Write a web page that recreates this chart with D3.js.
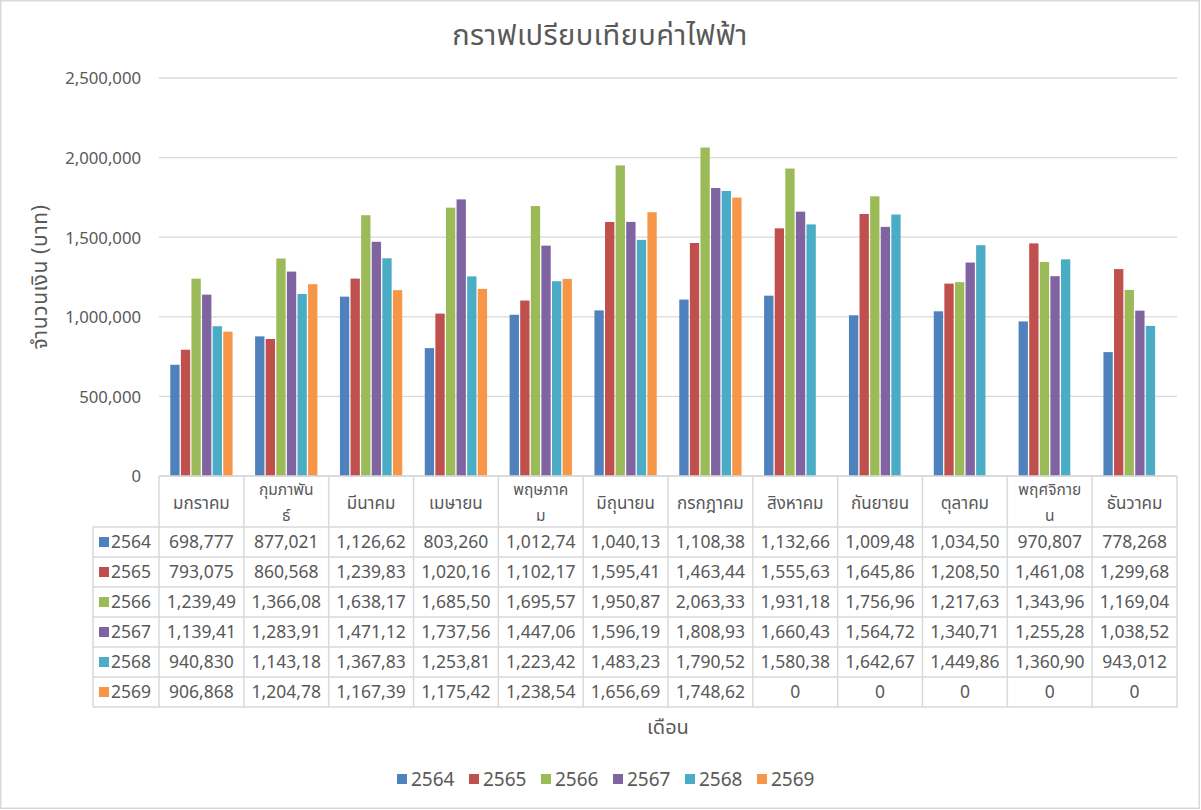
<!DOCTYPE html>
<html><head><meta charset="utf-8">
<script src="https://cdn.jsdelivr.net/npm/d3@7"></script>
<style>
html,body{margin:0;padding:0;background:#fff;}
svg text{font-family:"Segoe UI","Leelawadee UI","Noto Sans Thai","Noto Sans",Tahoma,sans-serif;fill:#595959;}
</style></head>
<body>
<svg id="chart" width="1201" height="810"></svg>
<script>
const title = "กราฟเปรียบเทียบค่าไฟฟ้า";
const yTitle = "จำนวนเงิน (บาท)";
const xTitle = "เดือน";
const months = ["มกราคม","กุมภาพันธ์","มีนาคม","เมษายน","พฤษภาคม","มิถุนายน","กรกฎาคม","สิงหาคม","กันยายน","ตุลาคม","พฤศจิกายน","ธันวาคม"];
// month names as they wrap inside the data-table header cells
const monthLines = [["มกราคม"],["กุมภาพัน","ธ์"],["มีนาคม"],["เมษายน"],["พฤษภาค","ม"],["มิถุนายน"],["กรกฎาคม"],["สิงหาคม"],["กันยายน"],["ตุลาคม"],["พฤศจิกาย","น"],["ธันวาคม"]];
const seriesNames = ["2564","2565","2566","2567","2568","2569"];
const colors = ["#4F81BD","#C0504D","#9BBB59","#8064A2","#4BACC6","#F79646"];
const yTicks = [0,500000,1000000,1500000,2000000,2500000];
const v2564 = [698777,877021,1126620,803260,1012740,1040130,1108380,1132660,1009480,1034500,970807,778268];
const v2565 = [793075,860568,1239830,1020160,1102170,1595410,1463440,1555630,1645860,1208500,1461080,1299680];
const v2566 = [1239490,1366080,1638170,1685500,1695570,1950870,2063330,1931180,1756960,1217630,1343960,1169040];
const v2567 = [1139410,1283910,1471120,1737560,1447060,1596190,1808930,1660430,1564720,1340710,1255280,1038520];
const v2568 = [940830,1143180,1367830,1253810,1223420,1483230,1790520,1580380,1642670,1449860,1360900,943012];
const v2569 = [906868,1204780,1167390,1175420,1238540,1656690,1748620,0,0,0,0,0];
const values = [v2564,v2565,v2566,v2567,v2568,v2569];

const svg = d3.select("#chart");
const W = 1201, H = 810;
svg.append("rect").attr("x",0.75).attr("y",0.75).attr("width",W-2.5).attr("height",H-2.5)
  .attr("fill","#fff").attr("stroke","#d9d9d9").attr("stroke-width",1.5);

const plot = {left:159, right:1177, top:78, bottom:476};
const x = d3.scaleBand().domain(months).range([plot.left, plot.right]).paddingInner(0).paddingOuter(0);
const xs = d3.scaleBand().domain(seriesNames).range([10, x.bandwidth()-10]).padding(0.12);
const y = d3.scaleLinear().domain([0,2500000]).range([plot.bottom, plot.top]);

// gridlines
svg.append("g").selectAll("line").data(yTicks).join("line")
  .attr("x1",plot.left).attr("x2",plot.right)
  .attr("y1",d=>y(d)).attr("y2",d=>y(d))
  .attr("stroke","#d9d9d9").attr("stroke-width",1.3);

// y axis labels
const yAxis = d3.axisLeft(y).tickValues(yTicks).tickFormat(d3.format(",")).tickSize(0).tickPadding(0);
const ga = svg.append("g").attr("transform",`translate(${plot.left-18},0)`).call(yAxis);
ga.select(".domain").remove();
ga.selectAll("text").style("font-size","16.7px").attr("fill","#595959").attr("dy","0.35em");

// bars
const groups = svg.append("g").selectAll("g").data(seriesNames).join("g")
  .attr("fill",(d,i)=>colors[i]);
groups.selectAll("rect").data((s,i)=>values[i].map((v,j)=>({s, m:months[j], v})))
  .join("rect")
  .attr("x",d=>x(d.m)+xs(d.s))
  .attr("width",xs.bandwidth())
  .attr("y",d=>y(d.v))
  .attr("height",d=>y(0)-y(d.v));

// title
svg.append("text").attr("x",600).attr("y",45).attr("text-anchor","middle")
  .style("font-size","29px").style("letter-spacing","0.4px").text(title);

// y title
svg.append("text").attr("transform",`translate(40,${(plot.top+plot.bottom)/2}) rotate(-90)`)
  .attr("text-anchor","middle").attr("dy","0.35em").style("font-size","21px").style("letter-spacing","0.6px").text(yTitle);

// data table
const headerBottom = 527, rowH = 30, labelLeft = 93;
const tableBottom = headerBottom + rowH*seriesNames.length;
const tg = svg.append("g");
const lineC = "#d9d9d9";
tg.append("line").attr("x1",plot.left).attr("x2",plot.right).attr("y1",plot.bottom).attr("y2",plot.bottom).attr("stroke",lineC).attr("stroke-width",1.5);
d3.range(seriesNames.length+1).forEach(i=>{
  tg.append("line").attr("x1",labelLeft).attr("x2",plot.right)
    .attr("y1",headerBottom+i*rowH).attr("y2",headerBottom+i*rowH).attr("stroke",lineC).attr("stroke-width",1.5);
});
months.forEach(m=>{
  tg.append("line").attr("x1",x(m)).attr("x2",x(m)).attr("y1",plot.bottom).attr("y2",tableBottom).attr("stroke",lineC).attr("stroke-width",1.5);
});
tg.append("line").attr("x1",plot.right).attr("x2",plot.right).attr("y1",plot.bottom).attr("y2",tableBottom).attr("stroke",lineC).attr("stroke-width",1.5);
tg.append("line").attr("x1",labelLeft).attr("x2",labelLeft).attr("y1",headerBottom).attr("y2",tableBottom).attr("stroke",lineC).attr("stroke-width",1.5);

// header labels (each line its own text element)
months.forEach((m,j)=>{
  const lines = monthLines[j];
  const two = lines.length > 1;
  const cy = (plot.bottom+headerBottom)/2 + (two ? 1 : 2);
  const lh = 26;
  lines.forEach((ln,k)=>{
    tg.append("text").attr("text-anchor","middle").style("font-size", two ? "15.5px" : "17px")
      .attr("x",x(m)+x.bandwidth()/2)
      .attr("y",cy + (k-(lines.length-1)/2)*lh).attr("dy","0.35em").text(ln);
  });
});

// rows
const fmt = d3.format(",");
seriesNames.forEach((s,i)=>{
  const cy = headerBottom + i*rowH + rowH/2;
  tg.append("rect").attr("x",labelLeft+6).attr("y",cy-5).attr("width",10).attr("height",10).attr("fill",colors[i]);
  tg.append("text").attr("x",labelLeft+18).attr("y",cy).attr("dy","0.35em").style("font-size","17.5px").text(s);
  values[i].forEach((v,j)=>{
    tg.append("text").attr("x",x(months[j])+x.bandwidth()/2).attr("y",cy).attr("dy","0.35em")
      .attr("text-anchor","middle").style("font-size","17.5px").text(fmt(v).slice(0,8));
  });
});

// x title
svg.append("text").attr("x",(plot.left+plot.right)/2).attr("y",734).attr("text-anchor","middle")
  .style("font-size","20px").text(xTitle);

// legend
const legX = 397, legStep = 72, legY = 779;
const lg = svg.append("g").selectAll("g").data(seriesNames).join("g")
  .attr("transform",(d,i)=>`translate(${legX+i*legStep},${legY})`);
lg.append("rect").attr("x",0).attr("y",-5).attr("width",10).attr("height",10).attr("fill",(d,i)=>colors[i]);
lg.append("text").attr("x",14).attr("y",0).attr("dy","0.35em").style("font-size","19px").text(d=>d);
</script>
</body></html>
